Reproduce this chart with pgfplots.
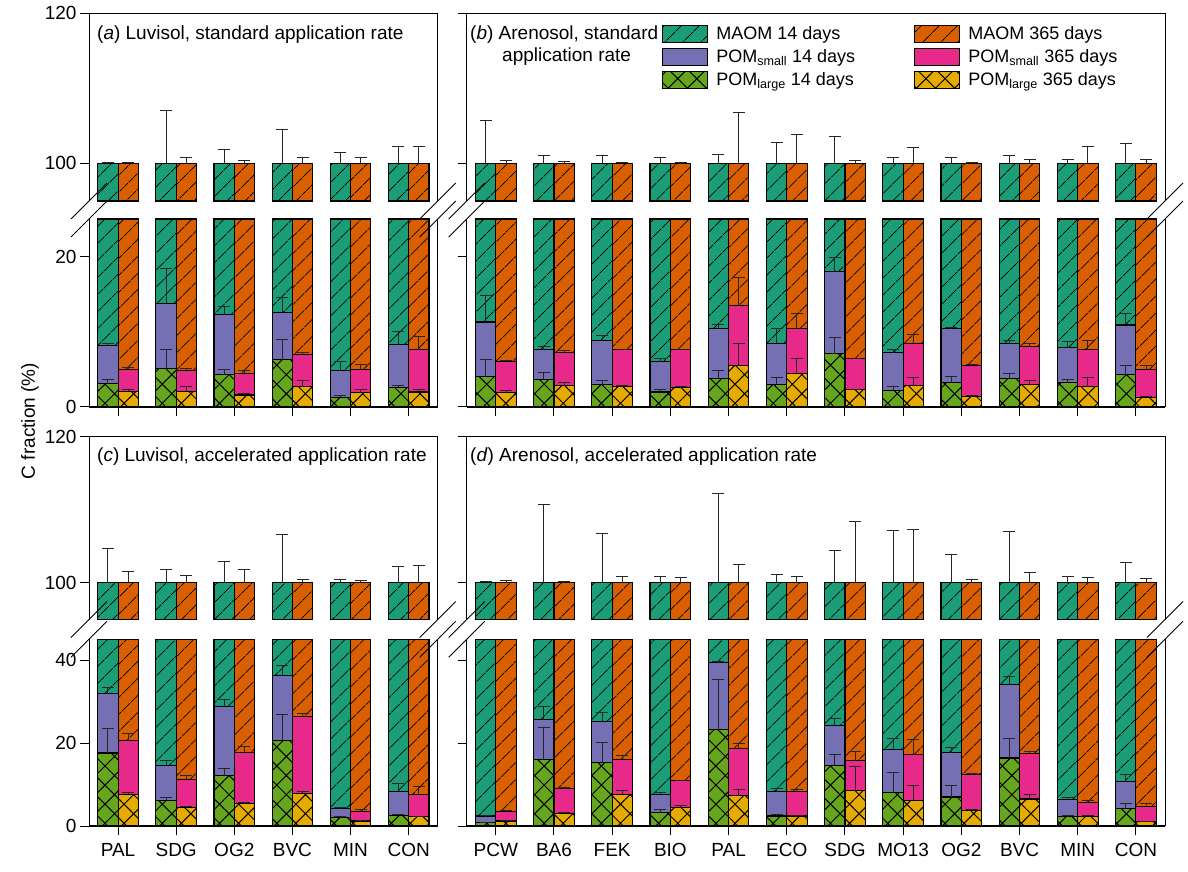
\documentclass[border=0pt]{standalone}
\usepackage{pgfplots}
\pgfplotsset{compat=1.18}
\usepackage{pgfplotstable}
\usetikzlibrary{patterns.meta}
\usepackage{fontspec}
\setmainfont{Liberation Sans}

\definecolor{cMa}{HTML}{1B9E77}
\definecolor{cMb}{HTML}{D95F02}
\definecolor{cSa}{HTML}{7570B3}
\definecolor{cSb}{HTML}{E7298A}
\definecolor{cLa}{HTML}{66A61E}
\definecolor{cLb}{HTML}{E6AB02}

% columns: x, MAOM top (100), POM_large top, POM_small cumulative top, SDs (upper arms)
\pgfplotstableread{
x M L S eL eS eM
0 100 3.1 8.2 0.5 0.3 0.2
1 100 5.1 13.8 2.5 4.6 7.1
2 100 4.3 12.3 0.7 1.1 1.9
3 100 6.3 12.6 2.7 2.0 4.5
4 100 1.3 4.9 0.3 1.2 1.4
5 100 2.6 8.3 0.3 1.8 2.2
}\tAa
\pgfplotstableread{
x M L S eL eS eM
0 100 2.1 5.0 0.3 0.3 0.2
1 100 2.1 4.9 0.6 0.2 0.8
2 100 1.6 4.5 0.2 0.3 0.4
3 100 2.7 7.0 0.8 0.3 0.8
4 100 1.9 5.0 0.4 0.6 0.8
5 100 2.0 7.6 0.4 1.8 2.3
}\tAb
\pgfplotstableread{
x M L S eL eS eM
0 100 4.0 11.3 2.3 3.5 5.7
1 100 3.6 7.6 1.0 0.4 1.0
2 100 3.0 8.8 0.5 0.7 1.1
3 100 2.0 6.0 0.3 0.4 0.8
4 100 3.8 10.4 1.0 0.6 1.2
5 100 3.0 8.5 0.9 1.9 2.8
6 100 7.1 18.0 2.1 1.9 3.6
7 100 2.2 7.2 0.5 0.5 0.8
8 100 3.2 10.4 0.8 0.2 0.8
9 100 3.8 8.4 0.6 0.4 1.0
10 100 3.2 7.9 0.5 0.8 0.5
11 100 4.3 10.9 1.2 1.6 2.7
}\tBa
\pgfplotstableread{
x M L S eL eS eM
0 100 1.9 6.1 0.3 0.1 0.4
1 100 2.8 7.3 0.4 0.2 0.3
2 100 2.7 7.6 0.1 0.1 0.2
3 100 2.6 7.6 0.1 0.1 0.1
4 100 5.5 13.5 2.9 3.7 6.8
5 100 4.5 10.4 1.9 2.0 3.8
6 100 2.3 6.4 0.1 0.1 0.4
7 100 2.8 8.4 1.1 1.2 2.1
8 100 1.4 5.5 0.1 0.1 0.2
9 100 3.0 8.0 0.5 0.4 0.6
10 100 2.7 7.6 1.2 1.2 2.2
11 100 1.3 5.0 0.1 0.5 0.5
}\tBb
\pgfplotstableread{
x M L S eL eS eM
0 100 17.6 31.9 5.8 1.6 4.7
1 100 6.2 14.6 0.7 1.2 1.9
2 100 12.1 28.7 1.7 1.8 3.0
3 100 20.6 36.2 6.4 2.4 6.7
4 100 2.0 4.2 0.2 0.3 0.5
5 100 2.6 8.4 0.2 1.9 2.3
}\tCa
\pgfplotstableread{
x M L S eL eS eM
0 100 7.6 20.6 0.4 1.6 1.6
1 100 4.5 11.3 0.1 1.0 1.0
2 100 5.4 17.8 0.3 1.4 1.8
3 100 7.9 26.3 0.4 0.8 0.5
4 100 1.2 3.6 0.1 0.4 0.4
5 100 2.2 7.6 0.2 2.0 2.4
}\tCb
\pgfplotstableread{
x M L S eL eS eM
0 100 0.8 2.4 0.1 0.1 0.2
1 100 16.1 25.6 7.7 3.2 10.7
2 100 15.3 25.2 4.9 2.2 6.8
3 100 3.2 7.7 0.7 0.4 0.9
4 100 23.2 39.4 12.1 0.3 12.2
5 100 2.4 8.3 0.3 0.7 1.1
6 100 14.5 24.2 2.8 1.8 4.4
7 100 8.1 18.5 4.8 2.5 7.2
8 100 7.0 17.7 2.7 1.3 3.9
9 100 16.4 34.0 4.8 2.0 7.0
10 100 2.2 6.3 0.4 0.6 0.9
11 100 4.2 10.7 1.2 1.8 2.8
}\tDa
\pgfplotstableread{
x M L S eL eS eM
0 100 1.2 3.5 0.1 0.2 0.3
1 100 3.1 9.0 0.1 0.4 0.2
2 100 7.7 16.1 0.9 0.8 0.9
3 100 4.4 10.9 0.6 0.1 0.7
4 100 7.3 18.7 1.4 1.2 2.5
5 100 2.4 8.3 0.1 0.4 0.9
6 100 8.5 15.7 5.9 2.3 8.4
7 100 6.2 17.2 3.5 3.6 7.3
8 100 3.8 12.5 0.1 0.1 0.5
9 100 6.5 17.5 1.2 0.5 1.4
10 100 2.3 5.6 0.3 0.6 0.7
11 100 1.0 4.8 0.1 0.6 0.6
}\tDb

\tikzset{
  bA/.style={ybar, bar width=0.35, bar shift=-0.175},
  bB/.style={ybar, bar width=0.35, bar shift=0.175},
  barout/.style={draw=black, line width=1.1pt},
  maom/.style={barout, fill=#1, postaction={pattern={Lines[angle=45,distance=13pt,line width=1pt]}, pattern color=black}},
  pomS/.style={barout, fill=#1},
  pomL/.style={barout, fill=#1, postaction={pattern={Hatch[angle=45,distance=13.5pt,line width=1pt]}, pattern color=black}},
}
\pgfplotsset{
  errp/.style={forget plot, draw=none, mark=none,
    /pgfplots/error bars/y dir=plus, /pgfplots/error bars/y explicit,
    /pgfplots/error bars/error bar style={draw=black!85, line width=0.9pt},
    /pgfplots/error bars/error mark options={rotate=90, draw=black!85, line width=0.9pt, mark size=6pt}},
  everyax/.style={scale only axis, anchor=south west, xmin=-0.5, clip=false,
    axis line style={draw=none}, tick align=outside, ytick pos=left, xtick pos=left,
    major tick length=9pt, tick style={line width=1pt, black},
    tick label style={font=\fontsize{19}{22}\selectfont},
    xticklabel style={yshift=-5pt},
    legend image code/.code={\draw[##1] (0pt,-8.5pt) rectangle (45pt,8.5pt);}},
  upperax/.style={everyax, ymin=0, ymax=25, ytick={5,25}, xtick=\empty},
}

\newcommand\upperplots[2]{%
  \addplot[bA, maom=cMa] table[x=x, y expr=\thisrow{M}-95]{#1};
  \addplot[bB, maom=cMb] table[x=x, y expr=\thisrow{M}-95]{#2};
  \addplot[errp] table[x expr=\thisrow{x}-0.175, y expr=\thisrow{M}-95, y error=eM]{#1};
  \addplot[errp] table[x expr=\thisrow{x}+0.175, y expr=\thisrow{M}-95, y error=eM]{#2};
  \draw[line width=1pt] (rel axis cs:0,0) -- (rel axis cs:0,1) -- (rel axis cs:1,1) -- (rel axis cs:1,0);
}
\newcommand\lowerplots[2]{%
  \addplot[bA, maom=cMa] table[x=x, y=M]{#1};
  \addplot[bB, maom=cMb] table[x=x, y=M]{#2};
  \addplot[bA, pomS=cSa] table[x=x, y=S]{#1};
  \addplot[bB, pomS=cSb] table[x=x, y=S]{#2};
  \addplot[bA, pomL=cLa] table[x=x, y=L]{#1};
  \addplot[bB, pomL=cLb] table[x=x, y=L]{#2};
  \addplot[errp] table[x expr=\thisrow{x}-0.175, y=S, y error=eS]{#1};
  \addplot[errp] table[x expr=\thisrow{x}+0.175, y=S, y error=eS]{#2};
  \addplot[errp] table[x expr=\thisrow{x}-0.175, y=L, y error=eL]{#1};
  \addplot[errp] table[x expr=\thisrow{x}+0.175, y=L, y error=eL]{#2};
  \draw[line width=1pt] (rel axis cs:0,1) -- (rel axis cs:0,0);
  \draw[line width=1pt] (rel axis cs:1,0) -- (rel axis cs:1,1);
  \draw[line width=2pt] (rel axis cs:0,0) -- (rel axis cs:1,0);
}
\newcommand\brk[2]{\draw[line width=0.9pt] ({#1pt-18pt},{#2pt-18pt}) -- ({#1pt+18pt},{#2pt+18pt});}

\begin{document}
\begin{tikzpicture}
\path[use as bounding box] (0,0) rectangle (1188pt,871pt);

% ---------- panel a ----------
\begin{axis}[upperax, at={(89pt,670pt)}, width=348.7pt, height=187.7pt, xmax=5.5, yticklabels={100,120}]
\upperplots{\tAa}{\tAb}
\end{axis}
\begin{axis}[everyax, at={(89pt,464pt)}, width=348.7pt, height=188pt, xmax=5.5,
  ymin=0, ymax=25, restrict y to domain*=0:25, ytick={0,20}, yticklabels={0,20},
  xtick={0,...,5}, xticklabels={}]
\lowerplots{\tAa}{\tAb}
\end{axis}

% ---------- panel b ----------
\begin{axis}[upperax, at={(466.7pt,670pt)}, width=698.3pt, height=187.7pt, xmax=11.5, yticklabels={}]
\upperplots{\tBa}{\tBb}
\end{axis}
\begin{axis}[everyax, at={(466.7pt,464pt)}, width=698.3pt, height=188pt, xmax=11.5,
  ymin=0, ymax=25, restrict y to domain*=0:25, ytick={0,20}, yticklabels={},
  xtick={0,...,11}, xticklabels={},
  legend columns=2, legend cell align=left,
  legend style={at={(axis description cs:0.2797,2.036)}, anchor=north west, draw=none, fill=none,
    font=\fontsize{18}{21}\selectfont, column sep=6pt, row sep=4.5pt, inner sep=0pt,
    nodes={inner sep=2pt},
    /tikz/every even column/.append style={column sep=57pt}}]
\lowerplots{\tBa}{\tBb}
\legend{MAOM 14 days, MAOM 365 days, POM\textsubscript{small} 14 days, POM\textsubscript{small} 365 days, POM\textsubscript{large} 14 days, POM\textsubscript{large} 365 days}
\end{axis}

% ---------- panel c ----------
\begin{axis}[upperax, at={(89pt,251.5pt)}, width=348.7pt, height=182.8pt, xmax=5.5, yticklabels={100,120}]
\upperplots{\tCa}{\tCb}
\end{axis}
\begin{axis}[everyax, at={(89pt,45pt)}, width=348.7pt, height=186.7pt, xmax=5.5,
  ymin=0, ymax=45, restrict y to domain*=0:45, ytick={0,20,40}, yticklabels={0,20,40},
  xtick={0,...,5}, xticklabels={PAL,SDG,OG2,BVC,MIN,CON}]
\lowerplots{\tCa}{\tCb}
\end{axis}

% ---------- panel d ----------
\begin{axis}[upperax, at={(466.7pt,251.5pt)}, width=698.3pt, height=182.8pt, xmax=11.5, yticklabels={}]
\upperplots{\tDa}{\tDb}
\end{axis}
\begin{axis}[everyax, at={(466.7pt,45pt)}, width=698.3pt, height=186.7pt, xmax=11.5,
  ymin=0, ymax=45, restrict y to domain*=0:45, ytick={0,20,40}, yticklabels={},
  xtick={0,...,11}, xticklabels={PCW,BA6,FEK,BIO,PAL,ECO,SDG,MO13,OG2,BVC,MIN,CON}]
\lowerplots{\tDa}{\tDb}
\end{axis}

% axis breaks
\foreach \bx in {89,437.7,466.7,1165}{
  \brk{\bx}{670}\brk{\bx}{652}
  \brk{\bx}{251.5}\brk{\bx}{231.7}
}

% panel titles
\begin{scope}[every node/.style={font=\fontsize{19}{22}\selectfont, inner sep=0pt}]
\node[anchor=base west] at (97pt,831pt) {(\textit{a}) Luvisol, standard application rate};
\node[anchor=base west] at (470pt,831pt) {(\textit{b}) Arenosol, standard};
\node[anchor=base west] at (502pt,809pt) {application rate};
\node[anchor=base west] at (97pt,409pt) {(\textit{c}) Luvisol, accelerated application rate};
\node[anchor=base west] at (470pt,409pt) {(\textit{d}) Arenosol, accelerated application rate};
\node[rotate=90] at (30pt,450pt) {C fraction (\%)};
\end{scope}
\end{tikzpicture}
\end{document}
